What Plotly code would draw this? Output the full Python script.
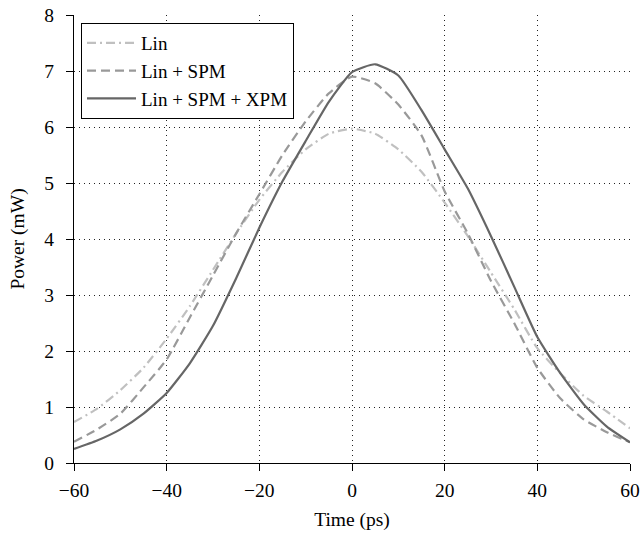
import plotly.graph_objects as go

time_ps = [-60, -55, -50, -45, -40, -35, -30, -25, -20, -15, -10, -5, 0,
           5, 10, 15, 20, 25, 30, 35, 40, 45, 50, 55, 60]
lin = [0.73, 0.97, 1.3, 1.7, 2.22, 2.8, 3.45, 4.1, 4.7, 5.2, 5.6, 5.88, 5.97,
       5.88, 5.6, 5.2, 4.65, 4.05, 3.4, 2.75, 2.05, 1.6, 1.2, 0.92, 0.62]
lin_spm = [0.38, 0.6, 0.88, 1.35, 1.85, 2.6, 3.35, 4.1, 4.8, 5.5, 6.1, 6.6, 6.9,
           6.78, 6.4, 5.85, 4.85, 4.1, 3.25, 2.5, 1.7, 1.15, 0.78, 0.55, 0.37]
lin_spm_xpm = [0.25, 0.4, 0.6, 0.88, 1.25, 1.78, 2.45, 3.3, 4.2, 5.03, 5.75, 6.45, 6.98,
               7.12, 6.92, 6.3, 5.6, 4.9, 4.05, 3.15, 2.25, 1.6, 1.05, 0.65, 0.37]

x_ticks = [-60, -40, -20, 0, 20, 40, 60]
x_tick_text = ["\u221260", "\u221240", "\u221220", "0", "20", "40", "60"]
y_ticks = [0, 1, 2, 3, 4, 5, 6, 7, 8]

series = [
    ("Lin", lin, "#c0c0c0", "9px,4px,2px,4px"),
    ("Lin + SPM", lin_spm, "#999999", "9px,5px"),
    ("Lin + SPM + XPM", lin_spm_xpm, "#666666", "solid"),
]

fig = go.Figure()
for name, vals, color, dash in series:
    fig.add_trace(go.Scatter(
        x=time_ps, y=vals, name=name, mode="lines",
        line=dict(color=color, width=2.2, dash=dash, shape="spline", smoothing=0.5),
    ))

font = dict(family="Liberation Serif, Times New Roman, serif", size=19.5, color="black")

axis_common = dict(
    showline=True, linecolor="black", linewidth=1,
    ticks="outside", ticklen=7, tickcolor="black", tickwidth=1,
    showgrid=True, gridcolor="#222222", griddash="1px,4px", gridwidth=1,
    zeroline=False, mirror=False, tickfont=font, automargin=False,
)

fig.update_layout(
    width=640, height=538,
    margin=dict(l=74, r=10, t=15, b=75),
    paper_bgcolor="white", plot_bgcolor="white",
    font=font,
    showlegend=True,
    legend=dict(
        x=0.0126, y=0.982, xanchor="left", yanchor="top",
        bgcolor="white", bordercolor="black", borderwidth=1,
        font=dict(family=font["family"], size=19, color="black"),
        tracegroupgap=0, itemwidth=49,
    ),
    xaxis=dict(range=[-60, 60], tickvals=x_ticks, ticktext=x_tick_text,
               ticklabelstandoff=3,
               title=dict(text="Time (ps)", font=font, standoff=11), **axis_common),
    yaxis=dict(range=[0, 8], tickvals=y_ticks, ticklabelstandoff=8,
               title=dict(text="Power (mW)", font=font, standoff=14), **axis_common),
)

fig.write_html("out.html", config={"displayModeBar": False},
               post_script="document.body.style.margin='0';")
